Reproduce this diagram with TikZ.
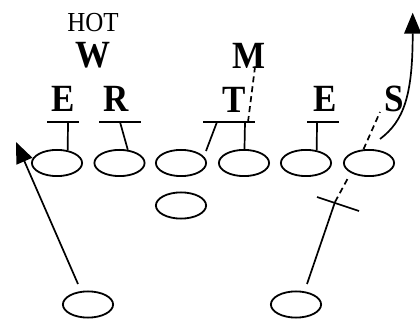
\documentclass[tikz,border=0pt]{standalone}
\usepackage{fontspec}
\setmainfont{Liberation Serif}
\usepackage{graphicx}
\usetikzlibrary{shapes.geometric,arrows.meta}
\tikzset{
  player/.style={ellipse, draw, line width=1.8pt, minimum width=50.2pt, minimum height=26.2pt, inner sep=0pt},
  lbl/.style={inner sep=0pt, font=\fontsize{35}{35}\selectfont\bfseries},
  hotlbl/.style={inner sep=0pt, font=\fontsize{25}{25}\selectfont},
  ln/.style={line width=1.7pt},
  dsh/.style={line width=1.7pt, dash pattern=on 6pt off 4pt},
  arr/.style={line width=1.7pt, -{Triangle[length=21pt,width=17pt]}},
}
\newcommand\vsc[1]{\scalebox{1}[1.1]{#1}}
\begin{document}
\begin{tikzpicture}[x=1pt,y=-1pt]
\useasboundingbox (0,0) rectangle (420,320);
% players
\node[player] (o1) at (57,163) {};
\node[player] (o2) at (119.5,163) {};
\node[player] (o3) at (181,163) {};
\node[player] (o4) at (244,163) {};
\node[player] (o5) at (306,163) {};
\node[player] (o6) at (369,163) {};
\node[player] (o7) at (181,205.5) {};
\node[player] (b1) at (88,304.5) {};
\node[player] (b2) at (296,304.5) {};
% labels
\node[hotlbl] (hot) at (93,23) {\vsc{HOT}};
\node[lbl] (W) at (92.5,55.5) {\vsc{W}};
\node[lbl] (E1) at (63,99) {\vsc{E}};
\node[lbl] (R) at (116.5,99) {\vsc{R}};
\node[lbl] (M) at (249,55.5) {\vsc{M}};
\node[lbl] (T) at (234.5,99.5) {\vsc{T}};
\node[lbl] (E2) at (325.5,99) {\vsc{E}};
\node[lbl] (S) at (394.5,99) {\vsc{S}};
% block lines
\coordinate (e1a) at (47,122); \coordinate (e1b) at (79,122);
\coordinate (ra) at (99,122);  \coordinate (rb) at (141,122);
\coordinate (ta) at (203,122); \coordinate (tb) at (255,122);
\coordinate (e2a) at (307,122); \coordinate (e2b) at (339,122);
\draw[ln] (e1a) -- (e1b);
\draw[ln] (ra) -- (rb);
\draw[ln] (ta) -- (tb);
\draw[ln] (e2a) -- (e2b);
% stems
\coordinate (s1) at (68,122);
\coordinate (s2) at (120,122);
\coordinate (s3) at (217,122);
\coordinate (s3e) at (206,151);
\coordinate (s4) at (245,122);
\coordinate (s4d) at (248,122);
\coordinate (mEnd) at (255,67);
\coordinate (s5) at (317,122);
\coordinate (sEnd) at (380,112);
\draw[ln] (s1) -- (o1.50);
\draw[ln] (s2) -- (o2.58);
\draw[ln] (s3) -- (s3e);
\draw[ln] (s4) -- (o4.88);
\draw[dsh] (s4d) -- (mEnd);
\draw[ln] (s5) -- (o5.50);
\draw[dsh] (o6.112) -- (sEnd);
% S route
\coordinate (cs) at (380,139);
\coordinate (ct) at (412.7,12.7);
\draw[arr] (cs) .. controls (404,121) and (412.7,95) .. (ct);
% left back route
\coordinate (la) at (78,284);
\coordinate (lt) at (16,142);
\draw[arr] (la) -- (lt);
% right back route
\coordinate (ra1) at (307,284);
\coordinate (rx) at (335,202);
\coordinate (rd) at (348,178);
\draw[ln] (ra1) -- (rx);
\draw[dsh] (rx) -- (rd);
\coordinate (xa) at (317,197);
\coordinate (xb) at (359,211);
\draw[ln] (xa) -- (xb);
\end{tikzpicture}
\end{document}
